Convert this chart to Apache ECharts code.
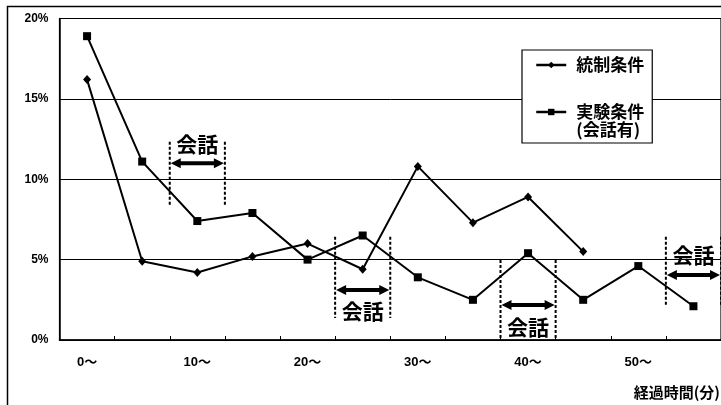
<!DOCTYPE html>
<html>
<head>
<meta charset="utf-8">
<script src="https://cdn.jsdelivr.net/npm/echarts@6/dist/echarts.min.js"></script>
<style>html,body{margin:0;padding:0;background:#fff;}#c{width:721px;height:405px;}</style>
</head>
<body>
<div id="c"></div>
<script>
// ---- data ----
var categories = ['0', '5', '10', '15', '20', '25', '30', '35', '40', '45', '50', '55'];
var xTickLabels = ['0～', '', '10～', '', '20～', '', '30～', '', '40～', '', '50～', ''];
var yTickValues = [0, 5, 10, 15, 20];
var controlName = '統制条件';
var experimentName = '実験条件';
var experimentNote = '(会話有)';
var controlValues = [16.2, 4.9, 4.2, 5.2, 6.0, 4.4, 10.8, 7.3, 8.9, 5.5, null, null];
var experimentValues = [18.9, 11.1, 7.4, 7.9, 5.0, 6.5, 3.9, 2.5, 5.4, 2.5, 4.6, 2.1];
var convLabel = '会話';
var convStart = [10, 25, 40, 55];   // minutes
var convEnd = [15, 30, 45, 60];     // minutes
var xAxisTitle = '経過時間(分)';

// ---- layout of annotations (y in % units) ----
var annotLayout = [
  {top: 12.33, bottom: 8.4, arrow: 11.0, text: 12.2},
  {top: 6.42, bottom: 1.37, arrow: 3.11, text: 1.8},
  {top: 4.98, bottom: 0.12, arrow: 2.18, text: 0.83},
  {top: 6.42, bottom: 2.07, arrow: 4.04, text: 5.29}
];

var chart = echarts.init(document.getElementById('c'), null, {renderer: 'canvas'});
var lblFont = '"Liberation Sans", "Noto Sans CJK JP", sans-serif';
var cjkFont = '"Noto Sans CJK JP", sans-serif';

function renderConv(params, api) {
  var i = params.dataIndex;
  var L = annotLayout[i];
  var x0 = api.coord([api.value(0), 0])[0];
  var x1 = api.coord([api.value(1), 0])[0];
  var yT = api.coord([0, L.top])[1];
  var yB = api.coord([0, L.bottom])[1];
  var yA = api.coord([0, L.arrow])[1];
  var yX = api.coord([0, L.text])[1];
  var dash = {stroke: '#000', lineWidth: 2, lineDash: [3, 2], fill: null};
  var hl = 10, hw = 5;
  return {
    type: 'group',
    children: [
      {type: 'line', shape: {x1: x0, y1: yT, x2: x0, y2: yB}, style: dash},
      {type: 'line', shape: {x1: x1, y1: yT, x2: x1, y2: yB}, style: dash},
      {type: 'line', shape: {x1: x0 + hl - 1, y1: yA, x2: x1 - hl + 1, y2: yA}, style: {stroke: '#000', lineWidth: 4}},
      {type: 'polygon', shape: {points: [[x0 + 1, yA], [x0 + hl + 1, yA - hw], [x0 + hl + 1, yA + hw]]}, style: {fill: '#000'}},
      {type: 'polygon', shape: {points: [[x1 - 1, yA], [x1 - hl - 1, yA - hw], [x1 - hl - 1, yA + hw]]}, style: {fill: '#000'}},
      {type: 'text', style: {text: convLabel, x: (x0 + x1) / 2, y: yX, align: 'center', verticalAlign: 'middle',
        font: 'bold 21px ' + cjkFont, fill: '#000'}}
    ]
  };
}

var option = {
  animation: false,
  backgroundColor: '#fff',
  title: {
    text: xAxisTitle, right: 1, top: 385, padding: 0,
    textStyle: {fontFamily: cjkFont, fontWeight: 'bold', fontSize: 15, color: '#000'}
  },
  graphic: [
    {type: 'rect', shape: {x: 7.5, y: 6.5, width: 730, height: 500}, style: {fill: null, stroke: '#000', lineWidth: 1.5}, silent: true}
  ],
  legend: {
    orient: 'vertical',
    left: 522, top: 50,
    padding: [6, 8, 4, 13],
    itemGap: 11,
    itemWidth: 30, itemHeight: 8,
    backgroundColor: '#fff',
    borderColor: '#000', borderWidth: 1.2,
    data: [controlName, experimentName],
    lineStyle: {width: 2.5, color: '#000'},
    formatter: function (name) {
      return name === experimentName ? '\n' + experimentName + '\n' + experimentNote : name;
    },
    textStyle: {fontFamily: cjkFont, fontWeight: 'bold', fontSize: 17, color: '#000', lineHeight: 18, padding: [0, 0, 0, 5]}
  },
  grid: {left: 59.5, right: 0, top: 18.5, bottom: 65, show: true, borderColor: '#000', borderWidth: 1.2, backgroundColor: 'transparent'},
  xAxis: [
    {
      type: 'category', data: categories, boundaryGap: true,
      axisLine: {lineStyle: {color: '#000', width: 1.5}},
      axisTick: {show: true, inside: true, length: 4, interval: 0, lineStyle: {color: '#000'}},
      axisLabel: {
        interval: 0, margin: 16, color: '#000', fontFamily: lblFont, fontWeight: 'bold', fontSize: 13,
        formatter: function (v, idx) { return xTickLabels[idx]; }
      }
    },
    {
      type: 'value', min: 0, max: 60, show: false, position: 'bottom'
    }
  ],
  yAxis: {
    type: 'value', min: 0, max: 20, interval: 5,
    axisLine: {show: true, lineStyle: {color: '#000', width: 1.5}},
    axisTick: {show: false},
    splitLine: {show: true, lineStyle: {color: '#000', width: 1}},
    axisLabel: {
      margin: 11, color: '#000', fontFamily: lblFont, fontWeight: 'bold', fontSize: 12,
      formatter: function (v) { return yTickValues.indexOf(v) >= 0 ? v + '%' : ''; }
    }
  },
  series: [
    {
      name: controlName, type: 'line', data: controlValues,
      symbol: 'diamond', symbolSize: [8, 9],
      lineStyle: {color: '#000', width: 2},
      itemStyle: {color: '#000'}, z: 3
    },
    {
      name: experimentName, type: 'line', data: experimentValues,
      symbol: 'rect', symbolSize: 8,
      lineStyle: {color: '#000', width: 2},
      itemStyle: {color: '#000'}, z: 3
    },
    {
      name: 'conv', type: 'custom', xAxisIndex: 1, yAxisIndex: 0, silent: true, z: 4,
      clip: false,
      encode: {x: [0, 1], y: -1},
      data: convStart.map(function (s, i) { return [s, convEnd[i]]; }),
      renderItem: renderConv
    }
  ]
};
chart.setOption(option);
</script>
</body>
</html>
